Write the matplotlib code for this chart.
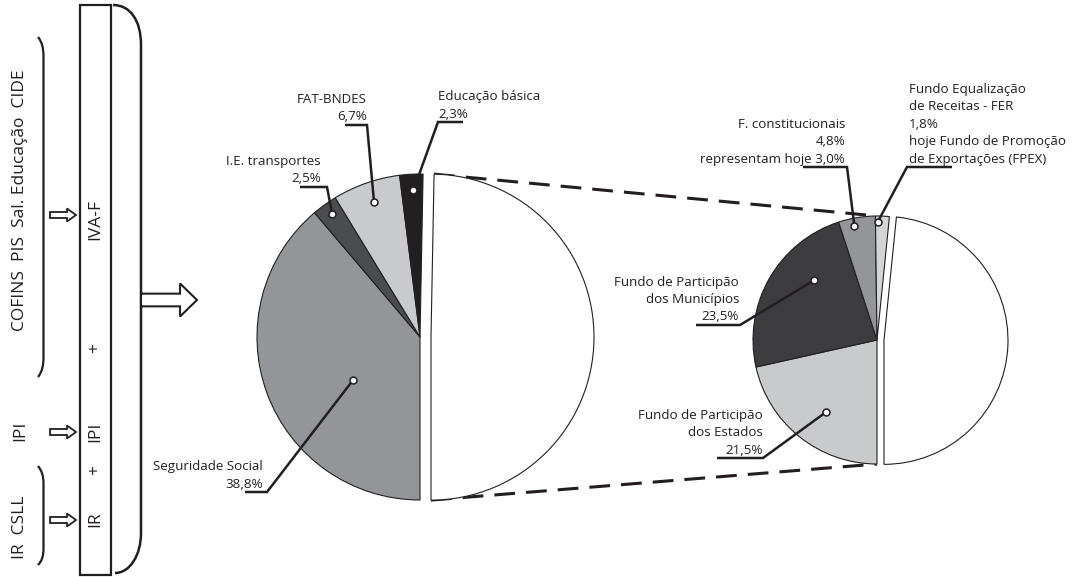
import matplotlib
matplotlib.use("Agg")
import matplotlib.pyplot as plt
import numpy as np
from matplotlib.path import Path
from matplotlib.patches import PathPatch, FancyArrow, Rectangle

plt.rcParams["font.family"] = ["Open Sans", "DejaVu Sans"]

W, H = 1073, 577

# ── Data ────────────────────────────────────────────────────────────────────
left_labels = ["Seguridade Social", "I.E. transportes", "FAT-BNDES", "Educação básica"]
left_values = [38.8, 2.5, 6.7, 2.3]
left_colors = ["#939598", "#4b4c4e", "#c9cacc", "#231f20"]

right_labels = ["Fundo de Participão\ndos Estados", "Fundo de Participão\ndos Municípios",
                "F. constitucionais", "Fundo Equalização\nde Receitas - FER"]
right_values = [21.5, 23.5, 4.8, 1.8]
right_colors = ["#c9cacc", "#3d3d3f", "#939598", "#d3d4d6"]
right_notes = ["", "", "representam hoje 3,0%", "hoje Fundo de Promoção\nde Exportações (FPEX)"]

tax_groups = ["COFINS  PIS  Sal. Educação  CIDE", "IPI", "IR  CSLL"]
new_taxes = ["IVA-F", "+", "IPI", "+", "IR"]

# ── Layout (image pixel coords, y downwards) ────────────────────────────────
L_CENTER, L_R, L_EXPLODE = (420, 337), 163, 11   # explode in pixels
R_CENTER, R_R, R_EXPLODE = (877, 340), 124, 7

# dot angle (deg), dot radius fraction, elbow (x, y), underline end x, text x, align
left_lead = [(212.6, 0.485, (267, 492), 245, 263, "right"),
             (125.6, 0.925, (327, 187), 300, 321, "right"),
             (108.8, 0.875, (367, 125), 345, 367, "right"),
             (92.6, 0.90, (438, 122), 463, 438, "left")]
right_lead = [(234.8, 0.71, (763, 458), 717, 763, "right"),
              (136.6, 0.70, (740, 325), 696, 739, "right"),
              (101.2, 0.94, (847, 167), 803, 845, "right"),
              (89.7, 0.95, (907, 167), 952, 909, "left")]

group_pos = [(20, 200), (20, 431), (20, 527)]
arrow_y = [215, 432, 520]
new_tax_y = [220, 348, 432, 470, 519]

LINE_H = 17.4
FS = 9.6
FS_BIG = 12.5
INK = "#231f20"


def Y(y):
    return H - y


def pct(v):
    return f"{v:.1f}%".replace(".", ",")


fig = plt.figure(figsize=(W / 100, H / 100), dpi=100)
ax = fig.add_axes([0, 0, 1, 1])


def draw_pie(values, colors, center, radius, explode):
    vals = list(values) + [100 - sum(values)]
    cols = list(colors) + ["white"]
    ax.pie(vals, colors=cols, startangle=270, counterclock=False,
           center=(center[0], Y(center[1])), radius=radius,
           explode=[0] * len(values) + [explode], frame=True,
           wedgeprops=dict(edgecolor=INK, linewidth=0.8))
    return 270 - 3.6 * sum(values)


def leaders(labels, values, notes, lead, center, radius):
    cx, cy = center[0], Y(center[1])
    for lab, val, note, (ang, rf, (ex, ey), endx, tx, ha) in zip(labels, values, notes, lead):
        a = np.radians(ang)
        dx, dy = cx + rf * radius * np.cos(a), cy + rf * radius * np.sin(a)
        ax.plot([dx, ex, endx], [dy, Y(ey), Y(ey)], color=INK, lw=1.8,
                solid_capstyle="butt", solid_joinstyle="miter", zorder=4)
        ax.plot(dx, dy, "o", ms=5, mfc="white", mec=INK, mew=1.1, zorder=5)
        lines = lab.split("\n") + [pct(val)] + (note.split("\n") if note else [])
        n = len(lines)
        for i, s in enumerate(lines):
            yy = ey - 8 - (n - 1 - i) * LINE_H
            ax.text(tx, Y(yy), s, ha=ha, va="center", fontsize=FS, color=INK, zorder=6)


# pies
l_end = draw_pie(left_values, left_colors, L_CENTER, L_R, L_EXPLODE)
r_end = draw_pie(right_values, right_colors, R_CENTER, R_R, R_EXPLODE)

# dashed connectors from the left white half to the right pie
mid = np.radians((l_end - 90) / 2)
wcx = L_CENTER[0] + L_EXPLODE * np.cos(mid)
wcy = Y(L_CENTER[1]) + L_EXPLODE * np.sin(mid)
top_l = (wcx + L_R * np.cos(np.radians(l_end)), wcy + L_R * np.sin(np.radians(l_end)))
bot_l = (wcx, wcy - L_R)
top_r = (R_CENTER[0], Y(R_CENTER[1]) + R_R)
bot_r = (R_CENTER[0], Y(R_CENTER[1]) - R_R)
for p, q in [(top_l, top_r), (bot_l, bot_r)]:
    ax.plot([p[0], q[0]], [p[1], q[1]], color=INK, lw=2.2, ls=(0, (6.8, 3.6)), zorder=0.5)

leaders(left_labels, left_values, [""] * 4, left_lead, L_CENTER, L_R)
leaders(right_labels, right_values, right_notes, right_lead, R_CENTER, R_R)

# left block: tax groups, arrows, IVA-F box, bracket and big arrow
for s, (x, y) in zip(tax_groups, group_pos):
    ax.text(x, Y(y), s, rotation=90, ha="center", va="center", fontsize=FS_BIG, color=INK)
for y in arrow_y:
    ax.add_patch(FancyArrow(50, Y(y), 26, 0, width=6, head_width=13, head_length=9,
                            length_includes_head=True, fc="white", ec=INK, lw=1.3))
for s, y in zip(new_taxes, new_tax_y):
    ax.text(95.5, Y(y), s, rotation=90, ha="center", va="center", fontsize=FS_BIG, color=INK)

ax.add_patch(Rectangle((80, Y(575)), 31, 570, fc="none", ec=INK, lw=1.6))


def bracket(pts, codes, lw):
    verts = [(x, Y(y)) for x, y in pts]
    ax.add_patch(PathPatch(Path(verts, codes), fc="none", ec=INK, lw=lw, capstyle="butt"))


C, Lt, M = Path.CURVE4, Path.LINETO, Path.MOVETO
bracket([(113, 5), (130, 5), (141, 20), (141, 45), (141, 533), (141, 555), (130, 573), (115, 573)],
        [M, C, C, C, Lt, C, C, C], 1.8)
bracket([(38, 37), (42, 42), (43.5, 48), (43.5, 57), (43.5, 357), (43.5, 366), (42, 372), (38, 377)],
        [M, C, C, C, Lt, C, C, C], 1.6)
bracket([(38, 466), (42, 471), (43.5, 476), (43.5, 484), (43.5, 548), (43.5, 556), (42, 561), (38, 565)],
        [M, C, C, C, Lt, C, C, C], 1.6)

ax.add_patch(FancyArrow(141, Y(300), 56, 0, width=12.7, head_width=33, head_length=17,
                        length_includes_head=True, fc="white", ec=INK, lw=1.5))

ax.set_xlim(0, W)
ax.set_ylim(0, H)
ax.set_aspect("auto")
ax.axis("off")
fig.savefig("out.png", dpi=100, facecolor="white")
